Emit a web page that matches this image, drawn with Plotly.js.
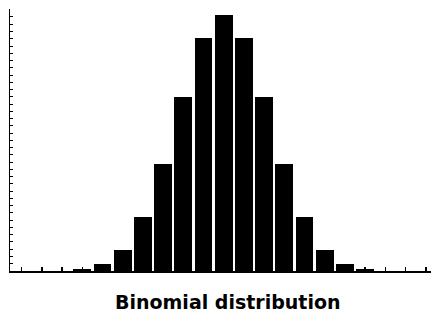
<!DOCTYPE html>
<html>
<head>
<meta charset="utf-8">
<script src="https://cdn.plot.ly/plotly-3.0.1.min.js"></script>
<style>html,body{margin:0;padding:0;background:#fff;}#chart{width:431px;height:312px;}</style>
</head>
<body>
<div id="chart"></div>
<script>
// Number of successes k (n = 20 trials)
const successes = [0,1,2,3,4,5,6,7,8,9,10,11,12,13,14,15,16,17,18,19,20];
// Probability
const probability = [0.000001,0.00002,0.0002,0.0011,0.0046,0.0148,0.0370,0.0739,0.1201,0.1602,0.1762,
                     0.1602,0.1201,0.0739,0.0370,0.0148,0.0046,0.0011,0.0002,0.00002,0.000001];
const chartTitle = "Binomial distribution";

const trace = {
  type: 'bar',
  x: successes,
  y: probability,
  width: 0.88,
  marker: {color: '#000000', line: {width: 0}},
  hoverinfo: 'x+y'
};

const layout = {
  width: 431, height: 312,
  margin: {l: 10, r: 0, t: 9, b: 41, pad: 0},
  paper_bgcolor: '#ffffff', plot_bgcolor: '#ffffff',
  showlegend: false,
  bargap: 0,
  xaxis: {
    range: [-0.58, 20.26],
    showgrid: false, zeroline: false,
    showline: true, linecolor: '#000000', linewidth: 1.5,
    ticks: 'inside', ticklen: 4, tickwidth: 1.5, tickcolor: '#000000',
    tickmode: 'linear', tick0: 0, dtick: 1,
    showticklabels: false, fixedrange: true
  },
  yaxis: {
    range: [0, 0.1805],
    showgrid: false, zeroline: false,
    showline: true, linecolor: '#000000', linewidth: 1.5,
    ticks: 'inside', ticklen: 3, tickwidth: 1, tickcolor: '#000000',
    tickmode: 'linear', tick0: 0, dtick: 0.005,
    showticklabels: false, fixedrange: true
  },
  annotations: [{
    text: '<b>' + chartTitle + '</b>',
    xref: 'paper', yref: 'paper',
    x: 0.518, y: -0.118, xanchor: 'center', yanchor: 'middle',
    showarrow: false,
    font: {family: 'DejaVu Sans, Verdana, sans-serif', size: 19, color: '#000000'}
  }]
};

Plotly.newPlot('chart', [trace], layout, {staticPlot: true, displayModeBar: false});
</script>
</body>
</html>
